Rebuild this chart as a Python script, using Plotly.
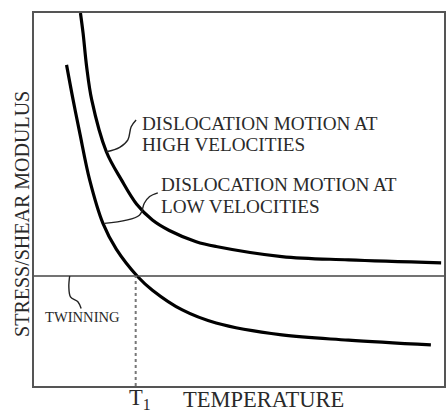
import plotly.graph_objects as go

# Data (arbitrary units: temperature 0-100, stress/shear modulus 0-100)
temp_high = [11.33, 11.97, 12.84, 14.08, 17.65, 21.36, 25.0, 28.88, 33.0, 39.56, 44.42, 60.44, 76.7, 99.3]
stress_high = [100.0, 94.6, 85.6, 76.7, 62.8, 55.2, 48.8, 44.5, 41.7, 38.7, 37.4, 34.7, 33.8, 33.0]

temp_low = [7.94, 9.54, 11.17, 13.59, 16.82, 20.07, 25.32, 28.88, 36.17, 44.42, 60.44, 76.7, 96.8]
stress_low = [86.1, 76.7, 67.8, 55.2, 43.6, 36.7, 29.3, 25.7, 20.4, 16.9, 13.7, 12.3, 11.0]

twinning_stress = 29.5
t1_temp = 24.8

# Callout leader lines (label pointers)
lead_high_x = [17.65, 20.9, 22.9, 23.7, 24.9]
lead_high_y = [62.8, 64.0, 66.0, 69.5, 71.3]
lead_low_x = [17.2, 25.7, 26.9, 28.2, 30.2]
lead_low_y = [43.6, 45.8, 49.0, 50.8, 51.8]
lead_twin_x = [8.7, 8.5, 8.9, 10.7, 11.5]
lead_twin_y = [29.5, 26.6, 23.9, 22.6, 20.8]

label_high = ["DISLOCATION MOTION AT", "HIGH VELOCITIES"]
label_low = ["DISLOCATION MOTION AT", "LOW VELOCITIES"]
label_twin = "TWINNING"
x_title = "TEMPERATURE"
y_title = "STRESS/SHEAR MODULUS"
t1_label = "T<sub>1</sub>"

serif = "Liberation Serif, Times New Roman, serif"
txt = "#2a2a2a"

fig = go.Figure()

fig.add_trace(go.Scatter(x=temp_high, y=stress_high, mode="lines",
                         line=dict(color="black", width=3.2, shape="spline", smoothing=1.0),
                         hoverinfo="skip", showlegend=False))
fig.add_trace(go.Scatter(x=temp_low, y=stress_low, mode="lines",
                         line=dict(color="black", width=3.2, shape="spline", smoothing=1.0),
                         hoverinfo="skip", showlegend=False))
# twinning stress line
fig.add_trace(go.Scatter(x=[0, 100], y=[twinning_stress, twinning_stress], mode="lines",
                         line=dict(color="#444", width=1.6),
                         hoverinfo="skip", showlegend=False))
# T1 dashed line
fig.add_trace(go.Scatter(x=[t1_temp, t1_temp], y=[0, twinning_stress], mode="lines",
                         line=dict(color="#777", width=2, dash="3px,3px"),
                         hoverinfo="skip", showlegend=False))
for lx, ly in [(lead_high_x, lead_high_y), (lead_low_x, lead_low_y), (lead_twin_x, lead_twin_y)]:
    fig.add_trace(go.Scatter(x=lx, y=ly, mode="lines",
                             line=dict(color="#222", width=1.4, shape="spline"),
                             hoverinfo="skip", showlegend=False))

ann = []
def add(text, x, y, size, xanchor="left", angle=0, ref="data"):
    r = ("x", "y") if ref == "data" else ("paper", "paper")
    ann.append(dict(text=text, x=x, y=y, xref=r[0], yref=r[1], showarrow=False,
                    xanchor=xanchor, yanchor="middle", textangle=angle,
                    font=dict(family=serif, size=size, color=txt)))

add(label_high[0], 25.8, 70.4, 19.2)
add(label_high[1], 25.8, 64.8, 19.2)
add(label_low[0], 30.6, 53.9, 19.2)
add(label_low[1], 30.6, 48.1, 19.2)
add(label_twin, 2.3, 18.5, 14.6)
add(x_title, 0.560, -0.036, 22.5, xanchor="center", ref="paper")
add(t1_label, 0.259, -0.036, 22.5, xanchor="center", ref="paper")
add(y_title, -0.031, 0.462, 20, xanchor="center", angle=-90, ref="paper")

axis_common = dict(range=[0, 100], showgrid=False, zeroline=False, showticklabels=False,
                   ticks="", showline=True, mirror=True, linecolor="#555", linewidth=1.5,
                   fixedrange=True)

fig.update_layout(
    width=447, height=412,
    margin=dict(l=34, r=1, t=13, b=26, pad=0),
    paper_bgcolor="white", plot_bgcolor="white",
    xaxis=axis_common, yaxis=axis_common,
    annotations=ann,
    showlegend=False,
)

fig.write_html("out.html", config={"displayModeBar": False},
               post_script="document.body.style.margin='0';document.body.style.overflow='hidden';")
